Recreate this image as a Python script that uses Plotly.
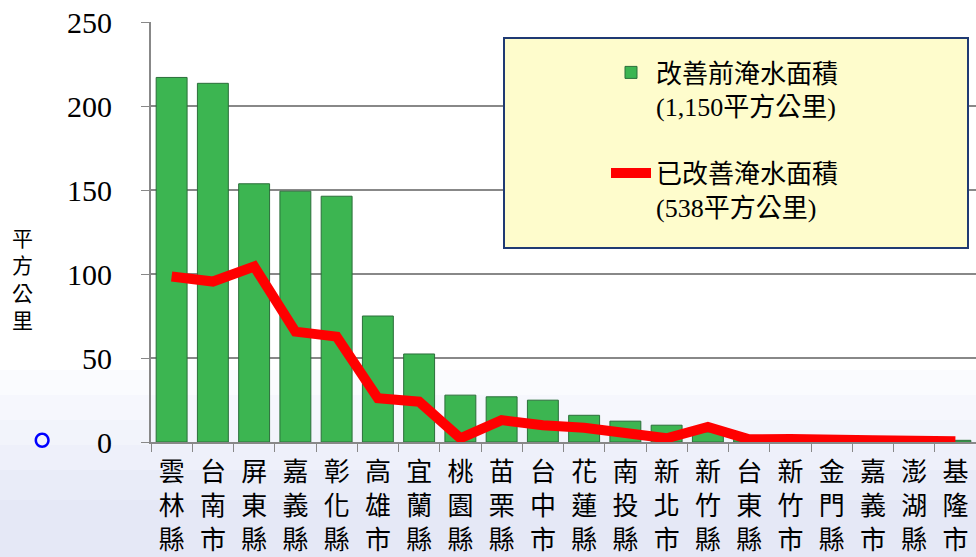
import plotly.graph_objects as go

categories = ["雲林縣", "台南市", "屏東縣", "嘉義縣", "彰化縣", "高雄市", "宜蘭縣", "桃園縣",
              "苗栗縣", "台中市", "花蓮縣", "南投縣", "新北市", "新竹縣", "台東縣", "新竹市",
              "金門縣", "嘉義市", "澎湖縣", "基隆市"]
before_area = [217, 213.5, 153.7, 149.3, 146.3, 75, 52.4, 27.9, 26.9, 24.9,
               15.9, 12.4, 10, 6, 3, 3, 3, 2, 2, 1]
improved_area = [98.5, 95.5, 104.5, 65.7, 62.7, 26, 24, 2.2, 13, 10,
                 8.5, 6, 2.2, 9, 1.6, 1.8, 2, 1, 0.8, 0.5]
y_ticks = [0, 50, 100, 150, 200, 250]
name_before = "改善前淹水面積<br>(1,150平方公里)"
name_improved = "已改善淹水面積<br>(538平方公里)"
y_title = "平方公里"

tick_text = ["<br>".join(list(c)) for c in categories]

SERIF = "Liberation Serif, Noto Sans CJK TC, serif"

fig = go.Figure()
fig.add_trace(go.Bar(
    x=categories, y=before_area, name=name_before,
    marker=dict(color="#3cb551", line=dict(color="#2b6e3a", width=1)),
    legendgroup="a",
))
fig.add_trace(go.Scatter(
    x=categories, y=improved_area, name=name_improved, mode="lines",
    line=dict(color="#ff0000", width=10),
    legendgroup="b",
))

W, H = 976, 557
L, R, T, B = 151, 0, 22, 115
pw, ph = W - L - R, H - T - B

def px_x(p):
    return (p - L) / pw

def px_y(p):
    return (H - B - p) / ph

bands = [(557, 500, "#e5e8f6"), (500, 470, "#e9ecf8"), (470, 445, "#eef0fa"),
         (445, 420, "#f2f4fb"), (420, 395, "#f6f7fd"), (395, 370, "#fafbfe")]
shapes = [
    dict(type="rect", xref="paper", yref="paper", x0=px_x(0), x1=px_x(W), y0=px_y(a), y1=px_y(b),
         fillcolor=c, line=dict(width=0), layer="below")
    for a, b, c in bands
]
shapes.append(
    dict(type="rect", xref="paper", yref="paper", x0=px_x(504), x1=px_x(968), y0=px_y(248), y1=px_y(38),
         fillcolor="#fefccc", line=dict(color="#1f3a73", width=2), layer="above")
)

fig.update_layout(
    width=W, height=H,
    margin=dict(l=L, r=R, t=T, b=B, pad=0, autoexpand=False),
    paper_bgcolor="white", plot_bgcolor="rgba(0,0,0,0)",
    bargap=0.25,
    font=dict(family=SERIF, size=27, color="black"),
    xaxis=dict(
        type="category", tickmode="array", tickvals=categories, ticktext=tick_text,
        range=[-0.5, len(categories) - 0.5], automargin=False,
        tickson="boundaries", ticks="outside", ticklen=8, tickcolor="#888888",
        showline=True, linecolor="#888888", linewidth=2, showgrid=False,
        tickfont=dict(family="Noto Sans CJK TC", size=26), tickangle=0,
        ticklabelstandoff=6,
    ),
    yaxis=dict(
        range=[0, 250], tickvals=y_ticks, ticks="outside", ticklen=8, tickcolor="#888888",
        showline=True, linecolor="#888888", linewidth=2, showgrid=False, zeroline=False,
        tickfont=dict(family=SERIF, size=30), ticklabelstandoff=23, automargin=False,
    ),
    yaxis2=dict(
        range=[0, 250], overlaying="y", tickvals=y_ticks[1:-1], showticklabels=False,
        showgrid=True, gridcolor="#888888", gridwidth=2, zeroline=False, showline=False,
        automargin=False,
    ),
    showlegend=True,
    legend=dict(
        x=px_x(606), y=px_y(49), xanchor="left", yanchor="top",
        bgcolor="rgba(0,0,0,0)", borderwidth=0,
        font=dict(family=SERIF, size=26), valign="top",
        traceorder="grouped", tracegroupgap=30, itemwidth=40,
    ),
    shapes=shapes,
    annotations=[
        dict(text="<br>".join(list(y_title)), xref="paper", yref="paper",
             x=px_x(22), y=px_y(278), xanchor="center", yanchor="middle", showarrow=False,
             font=dict(family="Noto Sans CJK TC", size=21)),
        dict(text="。", xref="paper", yref="paper", x=px_x(42), y=px_y(437),
             xanchor="center", yanchor="middle", showarrow=False,
             font=dict(family="Noto Sans CJK TC", size=50, color="#0000ff")),
    ],
)
fig.add_trace(go.Scatter(x=[categories[0]], y=[None], yaxis="y2", showlegend=False, hoverinfo="skip"))

fig.write_html("out.html", config={"displayModeBar": False},
               post_script="document.body.style.margin='0';document.body.style.overflow='hidden';")
